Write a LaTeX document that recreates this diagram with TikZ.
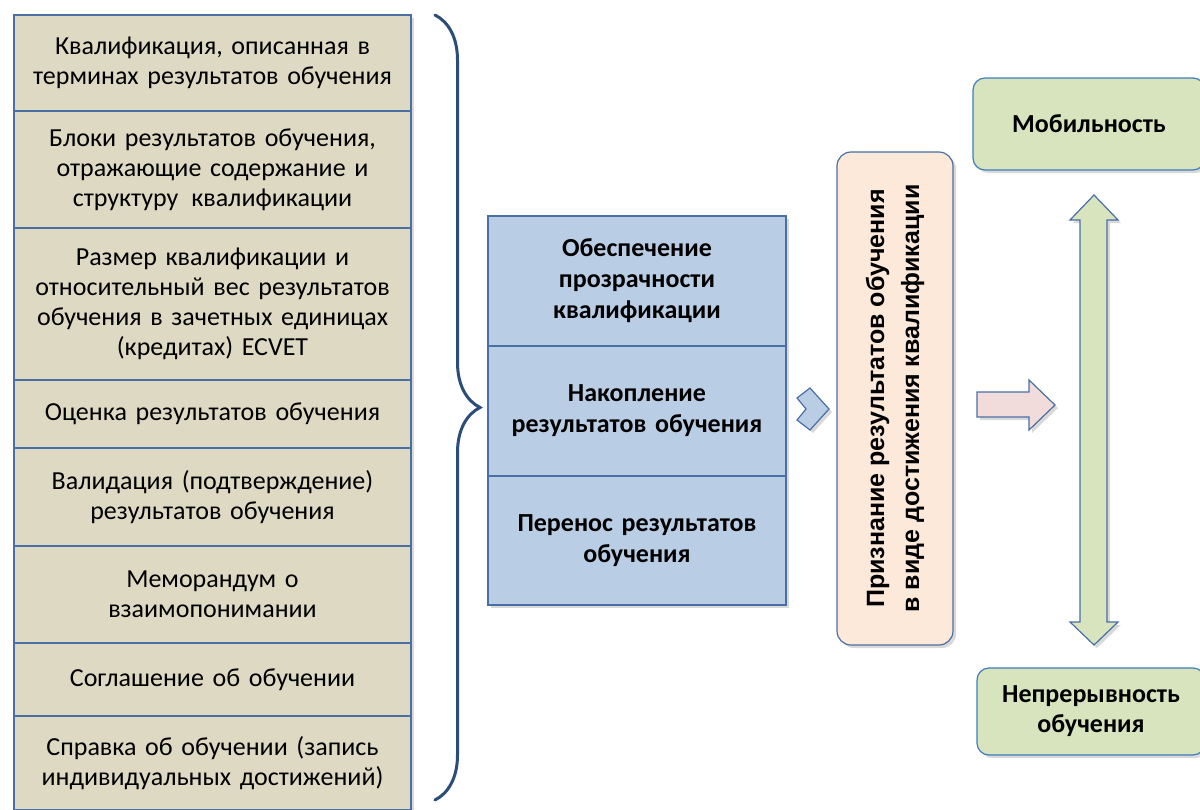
\documentclass[tikz,border=0pt]{standalone}
\usepackage{fontspec}
\setmainfont{Carlito}
\newfontfamily\arialfont{Liberation Sans}
\usetikzlibrary{positioning,shadows,decorations.pathreplacing}
\definecolor{tanfill}{HTML}{DDD9C3}
\definecolor{boxline}{HTML}{4A6FA5}
\definecolor{bluefill}{HTML}{B9CDE5}
\definecolor{peachfill}{HTML}{FDE9D9}
\definecolor{greenfill}{HTML}{D7E4BD}
\definecolor{greenline}{HTML}{3C7DC0}
\definecolor{pinkfill}{HTML}{F2DCDB}
\definecolor{bracecol}{HTML}{2A4D7A}

\begin{document}
\begin{tikzpicture}[x=1pt, y=-1pt,
    softshadow/.style={drop shadow={opacity=0.3, shadow xshift=3pt, shadow yshift=-3pt}},
    lbox/.style={draw=boxline, line width=1.2pt, fill=tanfill, softshadow,
        minimum width=397pt, text width=390pt, align=center,
        inner sep=0pt, outer sep=0pt, font=\fontsize{26}{30}\selectfont},
    mbox/.style={draw=boxline, line width=1.2pt, fill=bluefill, softshadow,
        minimum width=298pt, minimum height=130pt, text width=292pt, align=center,
        inner sep=0pt, outer sep=0pt, font=\fontsize{26}{31}\selectfont\bfseries},
    gbox/.style={draw=greenline, line width=1.2pt, fill=greenfill, softshadow,
        rounded corners=12pt, align=center, inner sep=0pt,
        font=\fontsize{26}{30}\selectfont\bfseries},
    shapeline/.style={draw=boxline, line width=1.2pt, line join=miter, softshadow}]
\useasboundingbox (0,0) rectangle (1200,809);

% left column
\node[lbox, minimum height=96pt, anchor=north] (r1) at (212.5,15)
    {Квалификация, описанная в\\терминах результатов обучения};
\node[lbox, minimum height=117pt, below=0pt of r1] (r2)
    {Блоки результатов обучения,\\отражающие содержание и\\структуру\, квалификации};
\node[lbox, minimum height=152pt, below=0pt of r2] (r3)
    {Размер квалификации и\\относительный вес результатов\\обучения в зачетных единицах\\(кредитах) ECVET};
\node[lbox, minimum height=68pt, below=0pt of r3] (r4)
    {Оценка результатов обучения};
\node[lbox, minimum height=98pt, below=0pt of r4] (r5)
    {Валидация (подтверждение)\\результатов обучения};
\node[lbox, minimum height=97pt, below=0pt of r5] (r6)
    {Меморандум о\\взаимопонимании};
\node[lbox, minimum height=73pt, below=0pt of r6] (r7)
    {Соглашение об обучении};
\node[lbox, minimum height=94pt, below=0pt of r7] (r8)
    {Справка об обучении (запись\\индивидуальных достижений)};

% brace
\coordinate (bracetop) at (435,15);
\coordinate (bracebot) at (435,800);
\draw[bracecol, line width=3pt, line cap=round,
    decorate, decoration={brace, amplitude=45pt}] (bracetop) -- (bracebot);

% middle column
\node[mbox, anchor=north] (m1) at (637,216)
    {Обеспечение\\прозрачности\\квалификации};
\node[mbox, below=0pt of m1] (m2)
    {Накопление\\результатов обучения};
\node[mbox, minimum height=129pt, below=0pt of m2] (m3)
    {Перенос результатов\\обучения};

% chevron
\filldraw[shapeline, fill=bluefill]
    (797,398) -- (810,388) -- (829,409) -- (810,430) -- (797,420) -- (806,409) -- cycle;

% recognition
\node[draw=boxline, line width=1.2pt, fill=peachfill, softshadow, rounded corners=14pt,
    rotate=90, minimum width=493pt, minimum height=116pt, align=center, inner sep=0pt,
    font=\arialfont\bfseries\fontsize{25}{35}\selectfont] (rec) at (895,398.5)
    {Признание результатов обучения\\в виде достижения квалификации};

% right side
\node[gbox, minimum width=232pt, minimum height=92pt] (mob) at (1089,124) {Мобильность};
\node[gbox, minimum width=228pt, minimum height=87pt] (cont) at (1091,711.5)
    {Непрерывность\\обучения};

\filldraw[shapeline, fill=pinkfill]
    (977,392) -- (1029,392) -- (1029,380) -- (1055,405) -- (1029,430) -- (1029,417)
    -- (977,417) -- cycle;
\filldraw[shapeline, fill=greenfill]
    (1094,195) -- (1118,220) -- (1107,220) -- (1107,622) -- (1118,622) -- (1094,645)
    -- (1070,622) -- (1080,622) -- (1080,220) -- (1070,220) -- cycle;
\end{tikzpicture}
\end{document}
